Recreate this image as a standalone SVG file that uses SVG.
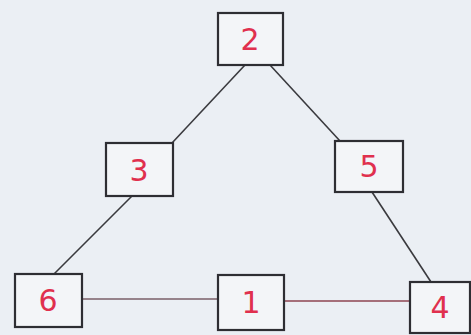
<svg xmlns="http://www.w3.org/2000/svg" width="471" height="335" viewBox="0 0 471 335">
<style>
.box{fill:#f3f5f8;stroke:#2e2e33;stroke-width:2.2}
.lbl{font-family:"DejaVu Sans","Liberation Sans",sans-serif;font-size:30px;fill:#e0304e;text-anchor:middle;dominant-baseline:central}
.edge{stroke:#3a3a3e;stroke-width:1.6;fill:none}
</style>
<rect width="471" height="335" fill="#ebeff4"/>
<g id="connectors">
<line class="edge" x1="245" y1="65" x2="172" y2="143"/>
<line class="edge" x1="132" y1="196" x2="54" y2="274"/>
<line class="edge" x1="270" y1="65" x2="340" y2="141"/>
<line class="edge" x1="372" y1="192" x2="431" y2="282"/>
<line class="edge" x1="82" y1="299" x2="218" y2="299" style="stroke:#7a5f68"/>
<line class="edge" x1="284" y1="301" x2="410" y2="301" style="stroke:#8e4552"/>
</g>
<g id="node2"><rect class="box" x="218" y="13" width="65" height="52"/><text class="lbl" x="250" y="39">2</text></g>
<g id="node3"><rect class="box" x="106" y="143" width="67" height="53"/><text class="lbl" x="139" y="170">3</text></g>
<g id="node5"><rect class="box" x="335" y="141" width="68" height="51"/><text class="lbl" x="369" y="166">5</text></g>
<g id="node6"><rect class="box" x="15" y="274" width="67" height="53"/><text class="lbl" x="48" y="300">6</text></g>
<g id="node1"><rect class="box" x="218" y="275" width="66" height="55"/><text class="lbl" x="251" y="302">1</text></g>
<g id="node4"><rect class="box" x="410" y="282" width="60" height="51"/><text class="lbl" x="440" y="307">4</text></g>
</svg>
